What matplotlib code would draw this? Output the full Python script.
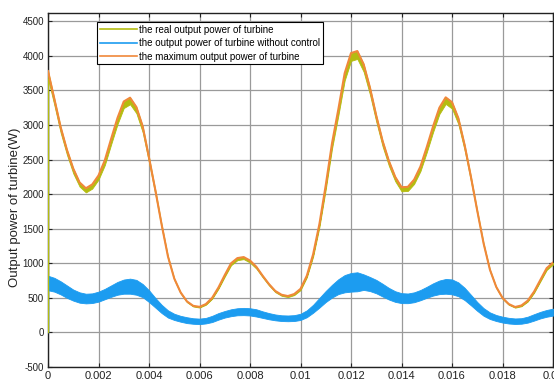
#! /usr/bin/env python3

"Plots the turbine output power with and without control against the maximum power"

import numpy as np
import matplotlib
matplotlib.use("Agg")
import matplotlib.pyplot as plt
from matplotlib.lines import Line2D

# sample times (s), one every 0.25 ms
time_s = np.linspace(0, 0.02, 81)

# maximum output power of the turbine (W)
max_power = [3780, 3380, 2970, 2640, 2370, 2170, 2085, 2140, 2270, 2490,
             2800, 3100, 3340, 3395, 3260, 2980, 2530, 2060, 1560, 1100,
             780, 580, 450, 385, 370, 410, 500, 650, 830, 1000,
             1075, 1090, 1040, 950, 820, 700, 600, 545, 526, 555,
             630, 820, 1130, 1570, 2130, 2740, 3230, 3750, 4040, 4070,
             3880, 3540, 3135, 2770, 2480, 2250, 2100, 2105, 2210, 2400,
             2680, 2980, 3250, 3400, 3330, 3100, 2710, 2250, 1760, 1290,
             910, 660, 500, 410, 368, 390, 460, 590, 760, 930,
             1010]

# lower edge of the ripple of the real (controlled) output power (W)
real_low = [3670, 3290, 2890, 2570, 2300, 2110, 2025, 2080, 2210, 2420,
            2720, 3010, 3245, 3300, 3170, 2895, 2460, 2000, 1515, 1070,
            760, 565, 438, 375, 360, 400, 487, 632, 807, 972,
            1045, 1060, 1010, 923, 797, 680, 583, 530, 511, 540,
            612, 797, 1098, 1526, 2070, 2663, 3140, 3645, 3927, 3956,
            3771, 3441, 3047, 2692, 2410, 2187, 2041, 2046, 2148, 2333,
            2605, 2897, 3159, 3305, 3237, 3013, 2634, 2187, 1711, 1254,
            885, 642, 486, 399, 358, 379, 447, 573, 739, 904,
            982]

# ripple band of the output power without control (W)
nocontrol_high = [820, 790, 740, 680, 620, 580, 560, 565, 590, 630,
                  680, 730, 765, 778, 760, 700, 610, 500, 400, 320,
                  270, 240, 220, 205, 200, 210, 240, 280, 310, 335,
                  350, 355, 350, 335, 305, 280, 260, 248, 245, 250,
                  270, 320, 400, 500, 600, 690, 770, 830, 860, 870,
                  840, 802, 760, 704, 644, 596, 568, 563, 580, 614,
                  660, 710, 751, 773, 767, 724, 646, 544, 440, 352,
                  290, 252, 228, 211, 202, 206, 228, 264, 298, 325,
                  344]
nocontrol_low = [610, 590, 550, 500, 460, 430, 420, 425, 445, 480,
                 515, 545, 560, 560, 545, 510, 440, 360, 280, 215,
                 180, 155, 135, 125, 120, 130, 150, 185, 215, 235,
                 248, 250, 245, 230, 210, 190, 175, 165, 162, 165,
                 180, 220, 285, 360, 440, 505, 555, 580, 590, 595,
                 615, 598, 566, 520, 476, 442, 424, 423, 437, 466,
                 501, 533, 554, 560, 551, 524, 468, 392, 312, 241,
                 194, 165, 143, 129, 122, 126, 142, 171, 203, 227,
                 243]

# start-up jump of both simulated outputs at t = 0
start_t = [0.0, 0.0]
real_start = [0, 3670]
nocontrol_start = [0, 720]

labels = ["the real output power of turbine",
          "the output power of turbine without control",
          "the maximum output power of turbine"]
colors = ["#b4bc10", "#1c9cf0", "#f0883a"]

plt.rcParams["font.family"] = ["Liberation Sans", "DejaVu Sans"]
plt.rcParams["axes.unicode_minus"] = False

fig = plt.figure(figsize=(5.54, 3.82), dpi=100)
ax = fig.add_axes([48 / 554, 15 / 382, 505 / 554, 354 / 382])

ax.fill_between(time_s, nocontrol_low, nocontrol_high, color=colors[1],
                linewidth=0.6, edgecolor=colors[1], zorder=3)
ax.plot(start_t, nocontrol_start, color=colors[1], linewidth=1.0, zorder=3)
ax.fill_between(time_s, real_low, max_power, color=colors[0],
                linewidth=0.6, edgecolor=colors[0], zorder=4)
ax.plot(start_t, real_start, color=colors[0], linewidth=1.0, zorder=4)
ax.plot(time_s, max_power, color=colors[2], linewidth=1.5, zorder=5)

ax.set_xlim(0, 0.02)
ax.set_ylim(-500, 4620)
ax.set_xticks(np.arange(0, 0.0201, 0.002))
ax.set_xticklabels(["0", "0.002", "0.004", "0.006", "0.008", "0.01",
                    "0.012", "0.014", "0.016", "0.018", "0.02"])
ax.set_yticks(np.arange(-500, 4501, 500))
ax.tick_params(axis="both", direction="in", top=True, right=True,
               length=3, width=0.8, colors="#222222", pad=3)
ax.tick_params(axis="x", labelsize=8)
ax.tick_params(axis="y", labelsize=7)
ax.grid(True, color="#9a9a9a", linewidth=0.9)
ax.set_axisbelow(True)
for spine in ax.spines.values():
    spine.set_linewidth(1.0)
    spine.set_color("#222222")

ax.set_ylabel("Output power of turbine(W)", fontsize=9.5, color="#222222")
ax.yaxis.set_label_coords(-0.054, 0.45)

handles = [Line2D([], [], color=c, linewidth=1.2) for c in colors]
leg = ax.legend(handles, labels, loc="upper left",
                bbox_to_anchor=(0.097, 0.975), borderaxespad=0,
                fontsize=7, handlelength=3.8, handletextpad=0.2,
                labelspacing=0.35, borderpad=0.3, fancybox=False,
                framealpha=1, edgecolor="black")
leg.get_frame().set_linewidth(0.8)

fig.savefig("out.png", dpi=100)
